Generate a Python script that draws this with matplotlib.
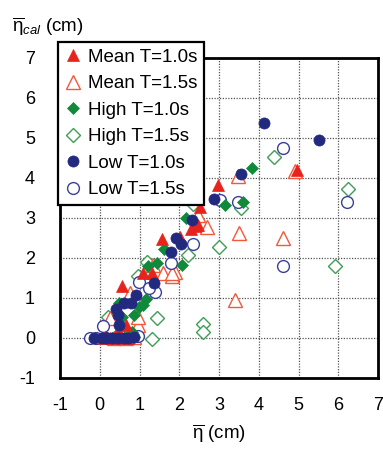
import matplotlib
matplotlib.use("Agg")
import matplotlib.pyplot as plt

plt.rcParams["font.family"] = ["Liberation Sans", "DejaVu Sans"]
plt.rcParams["mathtext.fontset"] = "custom"
plt.rcParams["mathtext.rm"] = "Liberation Sans"
plt.rcParams["mathtext.it"] = "Liberation Sans:italic"
plt.rcParams["axes.unicode_minus"] = False

# Measured setup vs. calculated setup (cm)
mean10_x = [4.95, 2.97, 2.52, 2.46, 2.40, 2.30, 2.02, 1.56, 1.31, 1.08, 0.56, 0.66, 0.45, 0.10, 0.25, 0.40, 0.55, 0.70]
mean10_y = [4.20, 3.82, 3.28, 2.82, 2.80, 2.72, 2.53, 2.48, 1.62, 1.62, 1.29, 0.33, 0.20, 0.00, 0.00, 0.00, 0.00, 0.00]

mean15_x = [4.90, 3.49, 2.48, 2.71, 3.51, 4.60, 1.89, 1.83, 1.60, 1.82, 1.35, 3.40, 0.76, 0.95, 0.62, 0.97, 0.26, 0.35, 0.65, 0.85]
mean15_y = [4.17, 4.05, 3.08, 2.78, 2.63, 2.49, 1.66, 1.55, 1.62, 1.62, 1.83, 0.95, 1.12, 0.33, 0.38, 0.53, 0.49, 0.00, 0.00, 0.02]

high10_x = [3.84, 3.60, 3.15, 2.17, 1.62, 1.45, 2.06, 1.22, 1.16, 1.08, 0.99, 0.87, 0.56, 0.49, 0.82, 0.30, 0.60, 0.85]
high10_y = [4.24, 3.39, 3.33, 2.99, 2.23, 1.87, 1.83, 1.80, 0.97, 0.83, 0.78, 0.58, 0.53, 0.87, 0.16, 0.00, 0.00, 0.02]

high15_x = [4.38, 6.25, 3.55, 2.34, 3.00, 2.23, 5.92, 1.43, 2.60, 2.60, 1.31, 0.20, 1.20, 0.95, 0.55]
high15_y = [4.53, 3.72, 3.24, 3.35, 2.28, 2.08, 1.81, 0.51, 0.34, 0.16, -0.03, 0.52, 1.90, 1.55, 0.05]

low10_x = [4.13, 5.52, 3.55, 2.87, 2.33, 1.92, 2.04, 1.78, 1.36, 0.91, 0.78, 0.62, 0.42, 0.45, 0.49,
           -0.15, 0.05, 0.15, 0.30, 0.45, 0.60, 0.72, 0.85]
low10_y = [5.37, 4.95, 4.10, 3.48, 2.95, 2.49, 2.35, 2.14, 1.38, 1.08, 0.88, 0.87, 0.72, 0.58, 0.33,
           0.00, 0.00, 0.00, 0.00, 0.00, 0.00, 0.00, 0.02]

low15_x = [4.62, 6.21, 3.03, 3.49, 2.34, 1.78, 4.62, 1.39, 0.99, 1.23, 0.07, -0.25, -0.10, 0.15, 0.40, 0.75, 0.95]
low15_y = [4.76, 3.41, 3.45, 3.41, 2.35, 1.87, 1.80, 1.16, 1.41, 1.24, 0.30, 0.00, 0.00, 0.00, 0.00, 0.00, 0.05]

labels = ["Mean T=1.0s", "Mean T=1.5s", "High T=1.0s", "High T=1.5s", "Low T=1.0s", "Low T=1.5s"]
ticks = [-1, 0, 1, 2, 3, 4, 5, 6, 7]

RED = "#e8231c"
RED_O = "#f05a3c"
GREEN = "#11893a"
GREEN_O = "#3f9e55"
BLUE = "#222a80"
BLUE_O = "#3a3f9a"

fig = plt.figure(figsize=(3.83, 4.51), dpi=100)
ax = fig.add_axes([60 / 383, 1 - 378 / 451, 318 / 383, 320 / 451])

ax.plot(high15_x, high15_y, ls="none", marker="D", ms=7.0, mfc="white", mec=GREEN_O, mew=1.0, label=labels[3])
ax.plot(mean15_x, mean15_y, ls="none", marker="^", ms=9.5, mfc="white", mec=RED_O, mew=1.0, label=labels[1])
ax.plot(low15_x, low15_y, ls="none", marker="o", ms=8.5, mfc="white", mec=BLUE_O, mew=1.0, label=labels[5])
ax.plot(high10_x, high10_y, ls="none", marker="D", ms=6.5, mfc=GREEN, mec=GREEN, mew=0.5, label=labels[2])
ax.plot(mean10_x, mean10_y, ls="none", marker="^", ms=8.0, mfc=RED, mec=RED, mew=0.5, label=labels[0])
ax.plot(low10_x, low10_y, ls="none", marker="o", ms=8.0, mfc=BLUE, mec=BLUE, mew=0.5, label=labels[4])

ax.set_xlim(-1, 7)
ax.set_ylim(-1, 7)
ax.set_xticks(ticks)
ax.set_yticks(ticks)
ax.tick_params(length=0, labelsize=13, pad=14, colors="black")
ax.tick_params(axis="y", pad=18)
ax.grid(True, ls=(0, (1, 1.2)), color="#555555", lw=0.9)
ax.set_axisbelow(True)
for s in ax.spines.values():
    s.set_linewidth(2.0)
    s.set_color("black")

ax.set_xlabel(r"$\overline{\mathrm{\eta}}$ (cm)", fontsize=13.5, labelpad=6)
fig.text(12 / 383, 1 - 32 / 451, r"$\overline{\mathrm{\eta}}_{cal}$ (cm)", fontsize=13.5, ha="left", va="baseline")

handles, labs = ax.get_legend_handles_labels()
hmap = dict(zip(labs, handles))
leg = ax.legend([hmap[l] for l in labels], labels, loc="upper left",
                bbox_to_anchor=(58 / 383, 1 - 42 / 451), bbox_transform=fig.transFigure,
                borderaxespad=0, fontsize=13.5, handlelength=0.9, handletextpad=0.35,
                labelspacing=0.5, borderpad=0.35, fancybox=False, framealpha=1,
                edgecolor="black", shadow=False)
leg.get_frame().set_linewidth(1.6)

fig.savefig("out.png", dpi=100)
